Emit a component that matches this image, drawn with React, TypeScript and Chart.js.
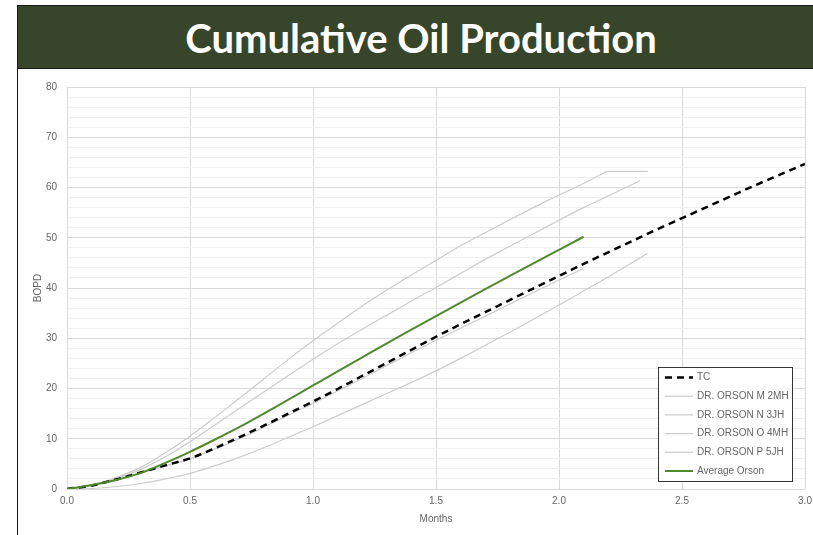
import React, { useEffect, useRef } from "react";
import { Chart, registerables } from "chart.js";

Chart.register(...registerables);

// ---- data (months on x, BOPD on y) ----
const tcMonths = [0, 0.1, 0.2, 0.3, 0.4, 0.5, 0.6, 0.7, 0.8, 0.9, 1.0, 1.1, 1.2, 1.3, 1.4, 1.5, 1.6, 1.7, 1.8, 1.9, 2.0, 2.1, 2.2, 2.3, 2.4, 2.5, 2.6, 2.7, 2.8, 2.9, 3.0];
const tcValues = [0, 0.7, 1.9, 3.3, 4.7, 6.1, 8.1, 10.3, 12.6, 15.0, 17.4, 19.9, 22.5, 25.1, 27.7, 30.3, 32.8, 35.2, 37.6, 40.0, 42.4, 44.8, 47.1, 49.4, 51.7, 53.9, 56.1, 58.3, 60.5, 62.6, 64.7];

const mMonths = [0, 0.1, 0.2, 0.3, 0.4, 0.5, 0.6, 0.7, 0.8, 0.9, 1.0, 1.1, 1.2, 1.3, 1.4, 1.5, 1.6, 1.7, 1.8, 1.9, 2.0, 2.1, 2.17, 2.2, 2.3, 2.36];
const mValues = [0, 0.8, 2.3, 4.3, 7.2, 10.5, 14.2, 18.0, 21.9, 25.8, 29.5, 33.0, 36.4, 39.6, 42.6, 45.5, 48.4, 51.0, 53.6, 56.1, 58.5, 60.8, 62.6, 63.2, 63.2, 63.2];

const nMonths = [0, 0.1, 0.2, 0.3, 0.4, 0.5, 0.6, 0.7, 0.8, 0.9, 1.0, 1.1, 1.2, 1.3, 1.4, 1.5, 1.6, 1.7, 1.8, 1.9, 2.0, 2.1, 2.2, 2.33];
const nValues = [0, 0.7, 2.0, 3.9, 6.4, 9.4, 12.7, 16.0, 19.3, 22.6, 25.8, 28.9, 31.8, 34.6, 37.4, 40.1, 42.9, 45.7, 48.3, 50.9, 53.5, 56.0, 58.3, 61.4];

const oMonths = [0, 0.1, 0.2, 0.3, 0.4, 0.5, 0.6, 0.7, 0.8, 0.9, 1.0, 1.1, 1.2, 1.3, 1.4, 1.5, 1.6, 1.7, 1.8, 1.9, 2.0, 2.1];
const oValues = [0, 0.6, 1.8, 3.2, 4.6, 6.0, 7.9, 10.0, 12.3, 14.7, 17.0, 19.5, 22.0, 24.6, 27.1, 29.6, 32.0, 34.4, 36.8, 39.2, 41.6, 43.9];

const pMonths = [0, 0.1, 0.2, 0.3, 0.4, 0.5, 0.6, 0.7, 0.8, 0.9, 1.0, 1.1, 1.2, 1.3, 1.4, 1.5, 1.6, 1.7, 1.8, 1.9, 2.0, 2.1, 2.2, 2.36];
const pValues = [0, 0.1, 0.5, 1.1, 2.0, 3.1, 4.6, 6.3, 8.2, 10.3, 12.4, 14.6, 16.8, 19.0, 21.2, 23.5, 26.0, 28.6, 31.2, 33.9, 36.6, 39.4, 42.2, 46.9];

const avgMonths = [0, 0.1, 0.2, 0.3, 0.4, 0.5, 0.6, 0.7, 0.8, 0.9, 1.0, 1.1, 1.2, 1.3, 1.4, 1.5, 1.6, 1.7, 1.8, 1.9, 2.0, 2.1];
const avgValues = [0, 0.8, 1.8, 3.2, 5.2, 7.4, 9.8, 12.3, 15.0, 17.8, 20.6, 23.4, 26.2, 29.0, 31.7, 34.4, 37.1, 39.8, 42.4, 45.0, 47.6, 50.2];

const seriesLabels = ["TC", "DR. ORSON M 2MH", "DR. ORSON N 3JH", "DR. ORSON O 4MH", "DR. ORSON P 5JH", "Average Orson"];

const xMin = 0;
const xMax = 3;
const xStep = 0.5;
const yMin = 0;
const yMax = 80;
const yStep = 2;
const yLabelStep = 10;

const GRAY = "#cccccc";
const GREEN = "#4f8a2f";
const TEXT = "#666666";
const FONT = "'Liberation Sans', Arial, sans-serif";

const toPoints = (xs: number[], ys: number[]) => xs.map((x, i) => ({ x, y: ys[i] }));

const boxLegend = {
  id: "boxLegend",
  afterDatasetsDraw(chart: any) {
    const { ctx, chartArea } = chart;
    const w = 135;
    const h = 115;
    const x0 = Math.round(chartArea.right - 12 - w);
    const y0 = Math.round(chartArea.bottom - 7 - h);
    ctx.save();
    ctx.fillStyle = "#ffffff";
    ctx.fillRect(x0, y0, w, h);
    ctx.strokeStyle = "#333333";
    ctx.lineWidth = 1;
    ctx.strokeRect(x0 + 0.5, y0 + 0.5, w - 1, h - 1);
    ctx.font = `10px ${FONT}`;
    ctx.textBaseline = "middle";
    ctx.textAlign = "left";
    chart.data.datasets.forEach((ds: any, i: number) => {
      const y = y0 + 10.5 + i * 18.7;
      ctx.beginPath();
      ctx.strokeStyle = ds.borderColor;
      ctx.lineWidth = ds.borderWidth;
      ctx.setLineDash(ds.borderDash || []);
      ctx.moveTo(x0 + 7, y);
      ctx.lineTo(x0 + 35, y);
      ctx.stroke();
      ctx.setLineDash([]);
      ctx.fillStyle = TEXT;
      ctx.fillText(ds.label, x0 + 39, y);
    });
    ctx.restore();
  },
};

export default function App() {
  const canvasRef = useRef<HTMLCanvasElement | null>(null);

  useEffect(() => {
    document.body.style.margin = "0";
    const canvas = canvasRef.current;
    if (!canvas) return;
    const chart = new Chart(canvas, {
      type: "line",
      data: {
        datasets: [
          {
            label: seriesLabels[0],
            data: toPoints(tcMonths, tcValues),
            borderColor: "#000000",
            borderWidth: 2.5,
            borderDash: [7, 5],
            pointRadius: 0,
            order: 1,
          },
          {
            label: seriesLabels[1],
            data: toPoints(mMonths, mValues),
            borderColor: GRAY,
            borderWidth: 1.2,
            pointRadius: 0,
            order: 2,
          },
          {
            label: seriesLabels[2],
            data: toPoints(nMonths, nValues),
            borderColor: GRAY,
            borderWidth: 1.2,
            pointRadius: 0,
            order: 3,
          },
          {
            label: seriesLabels[3],
            data: toPoints(oMonths, oValues),
            borderColor: GRAY,
            borderWidth: 1.2,
            pointRadius: 0,
            order: 4,
          },
          {
            label: seriesLabels[4],
            data: toPoints(pMonths, pValues),
            borderColor: GRAY,
            borderWidth: 1.2,
            pointRadius: 0,
            order: 5,
          },
          {
            label: seriesLabels[5],
            data: toPoints(avgMonths, avgValues),
            borderColor: GREEN,
            borderWidth: 2,
            pointRadius: 0,
            order: 0,
          },
        ],
      },
      options: {
        animation: false,
        responsive: false,
        devicePixelRatio: 1,
        parsing: false as any,
        layout: { padding: { top: 16, right: 8, left: 0, bottom: 0 } },
        elements: { line: { cubicInterpolationMode: "monotone" } },
        plugins: {
          legend: { display: false },
          tooltip: { enabled: false },
          title: { display: false },
        },
        scales: {
          x: {
            type: "linear",
            min: xMin,
            max: xMax,
            border: { display: false },
            grid: { color: "#d9d9d9", lineWidth: 1, drawTicks: false },
            ticks: {
              stepSize: xStep,
              padding: 6,
              color: TEXT,
              font: { family: FONT, size: 10 },
              callback: (v: any) => Number(v).toFixed(1),
              maxRotation: 0,
              autoSkip: false,
            },
            title: {
              display: true,
              text: "Months",
              color: TEXT,
              font: { family: FONT, size: 10 },
              padding: { top: 0, bottom: 10 },
            },
            afterFit: (scale: any) => {
              scale.height = 46;
              scale.paddingLeft = 0;
              scale.paddingRight = 0;
            },
          },
          y: {
            type: "linear",
            min: yMin,
            max: yMax,
            border: { display: false },
            grid: {
              drawTicks: false,
              lineWidth: 1,
              color: (c: any) => (c.tick && c.tick.value % yLabelStep === 0 ? "#d9d9d9" : "#efefef"),
            },
            ticks: {
              stepSize: yStep,
              padding: 10,
              autoSkip: false,
              color: TEXT,
              font: { family: FONT, size: 10 },
              callback: (v: any) => (Number(v) % yLabelStep === 0 ? String(v) : ""),
            },
            title: {
              display: true,
              text: "BOPD",
              color: TEXT,
              font: { family: FONT, size: 10 },
              padding: { top: 14, bottom: 0 },
            },
            afterFit: (scale: any) => {
              scale.width = 49;
            },
          },
        },
      },
      plugins: [boxLegend],
    });
    return () => chart.destroy();
  }, []);

  return (
    <div style={{ position: "relative", width: 813, height: 535, background: "#ffffff", overflow: "hidden" }}>
      <div
        style={{
          position: "absolute",
          left: 17,
          top: 5,
          width: 800,
          height: 64,
          background: "#37452a",
          border: "1px solid #1a1a1a",
          display: "flex",
          alignItems: "center",
          justifyContent: "center",
          boxSizing: "border-box",
        }}
      >
        <span
          style={{
            color: "#ffffff",
            fontFamily: "Lato, 'Open Sans', sans-serif",
            fontWeight: 700,
            fontSize: 40,
            marginLeft: 8,
            marginTop: 2,
            whiteSpace: "nowrap",
          }}
        >
          Cumulative Oil Production
        </span>
      </div>
      <div style={{ position: "absolute", left: 17, top: 69, width: 1, height: 466, background: "#1a1a1a" }} />
      <canvas
        ref={canvasRef}
        width={795}
        height={464}
        style={{ position: "absolute", left: 18, top: 71, width: 795, height: 464 }}
      />
    </div>
  );
}
